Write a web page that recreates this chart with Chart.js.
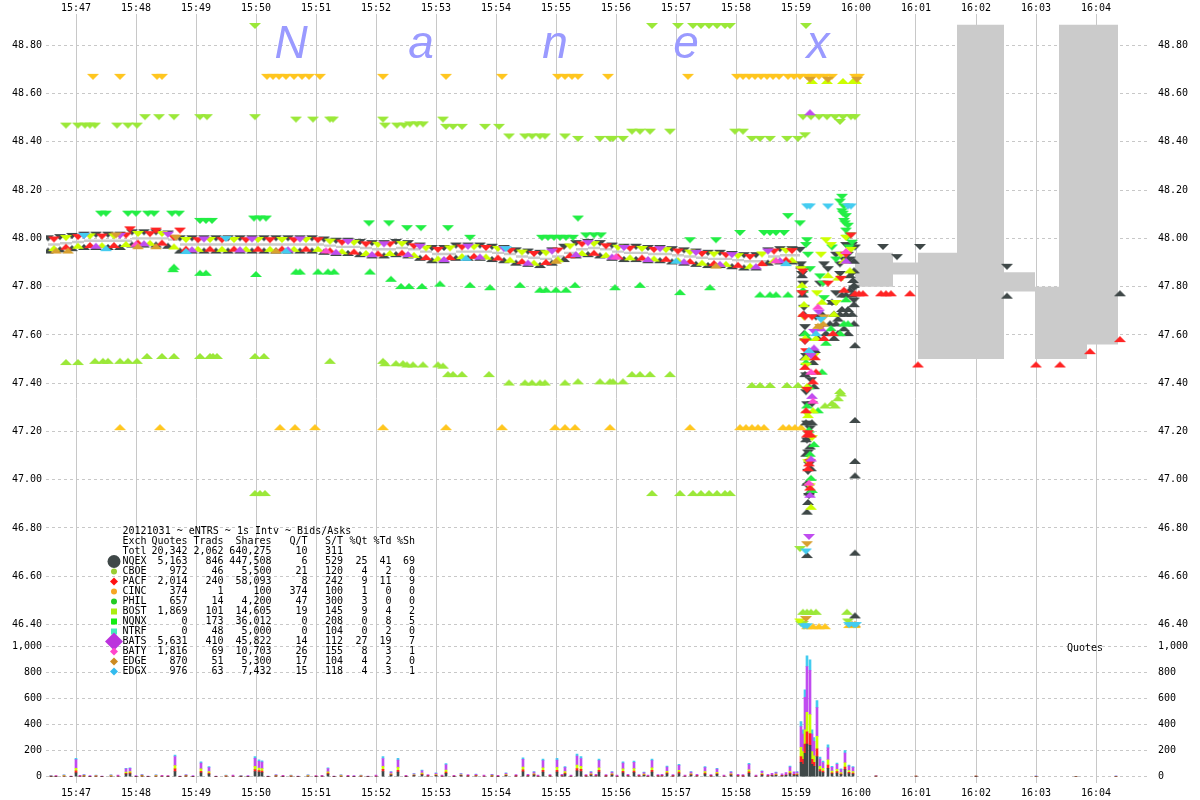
<!DOCTYPE html>
<html>
<head>
<meta charset="utf-8">
<script src="https://cdn.jsdelivr.net/npm/chart.js@4.4.1/dist/chart.umd.min.js"></script>
<style>
  html, body { margin: 0; padding: 0; background: #fff; }
  canvas { display: block; }
</style>
</head>
<body>
<canvas id="nanex" width="1200" height="800"></canvas>
<script>
// seconds after 15:47:00 on the x axis
const timeTicks = [0, 60, 120, 180, 240, 300, 360, 420, 480, 540, 600, 660, 720, 780, 840, 900, 960, 1020];
const timeLabels = ['15:47','15:48','15:49','15:50','15:51','15:52','15:53','15:54','15:55','15:56','15:57','15:58','15:59','16:00','16:01','16:02','16:03','16:04'];
const priceTicks = [46.4, 46.6, 46.8, 47.0, 47.2, 47.4, 47.6, 47.8, 48.0, 48.2, 48.4, 48.6, 48.8];
const quoteTicks = [0, 200, 400, 600, 800, 1000];
const quoteLabels = ['0', '200', '400', '600', '800', '1,000'];

// main band before the drop (NQEX outer quotes + NBBO core)
const bandT = [-28,-16,-4,8,20,32,44,56,68,80,92,104,116,128,140,152,164,176,188,200,212,224,236,248,260,272,284,296,308,320,332,344,356,368,380,392,404,416,428,440,452,464,476,488,500,512,524,536,548,560,572,584,596,608,620,632,644,656,668,680,692,704,716];
const nqexAskP = [47.988,47.993,47.998,48.003,48.003,48.003,48.003,48.013,48.013,48.013,48.008,47.988,47.988,47.988,47.988,47.988,47.988,47.988,47.988,47.988,47.988,47.988,47.988,47.983,47.978,47.978,47.973,47.968,47.968,47.973,47.968,47.958,47.948,47.948,47.958,47.958,47.958,47.953,47.948,47.938,47.933,47.928,47.938,47.953,47.968,47.973,47.968,47.958,47.953,47.953,47.948,47.948,47.943,47.938,47.933,47.928,47.928,47.923,47.918,47.918,47.938,47.943,47.943];
const nqexBidP = [47.962,47.967,47.972,47.977,47.977,47.977,47.977,47.987,47.987,47.987,47.982,47.962,47.962,47.962,47.962,47.962,47.962,47.962,47.962,47.962,47.962,47.962,47.962,47.957,47.952,47.952,47.947,47.942,47.942,47.947,47.942,47.932,47.922,47.922,47.932,47.932,47.932,47.927,47.922,47.912,47.907,47.902,47.912,47.927,47.942,47.947,47.942,47.932,47.927,47.927,47.922,47.922,47.917,47.912,47.907,47.902,47.902,47.897,47.892,47.892,47.912,47.917,47.917];
const nbboAskP = [47.98,47.985,47.99,47.995,47.995,47.995,47.995,48.005,48.005,48.005,48.0,47.98,47.98,47.98,47.98,47.98,47.98,47.98,47.98,47.98,47.98,47.98,47.98,47.975,47.97,47.97,47.965,47.96,47.96,47.965,47.96,47.95,47.94,47.94,47.95,47.95,47.95,47.945,47.94,47.93,47.925,47.92,47.93,47.945,47.96,47.965,47.96,47.95,47.945,47.945,47.94,47.94,47.935,47.93,47.925,47.92,47.92,47.915,47.91,47.91,47.93,47.935,47.935];
const nbboBidP = [47.97,47.975,47.98,47.985,47.985,47.985,47.985,47.995,47.995,47.995,47.99,47.97,47.97,47.97,47.97,47.97,47.97,47.97,47.97,47.97,47.97,47.97,47.97,47.965,47.96,47.96,47.955,47.95,47.95,47.955,47.95,47.94,47.93,47.93,47.94,47.94,47.94,47.935,47.93,47.92,47.915,47.91,47.92,47.935,47.95,47.955,47.95,47.94,47.935,47.935,47.93,47.93,47.925,47.92,47.915,47.91,47.91,47.905,47.9,47.9,47.92,47.925,47.925];

// NBBO after the close
const postT = [779, 817, 842, 881, 928, 959, 983, 1011, 1042];
const postBid = [47.80, 47.85, 47.50, 47.50, 47.78, 47.50, 47.50, 47.56, 47.56];
const postAsk = [47.94, 47.90, 47.94, 48.885, 47.86, 47.80, 48.885, 48.885, 48.885];

// exchange quotes [sec, price]
const nqexAskX = [[724,47.94],[725,47.88],[726,47.84],[727,47.80],[727,47.76],[728,47.70],[729,47.62],[729,47.56],[730,47.50],[730,47.42],[730,47.35],[731,47.30],[731,47.22],[731,47.15],[732,47.10],[732,47.02],[732,46.96],[733,46.92],[733,47.05],[734,47.20],[735,47.40],[736,47.30],[740,47.66],[744,47.80],[748,47.88],[752,47.86],[756,47.72],[760,47.76],[760,47.92],[764,47.84],[764,47.88],[768,47.90],[770,47.96],[772,47.92],[774,47.90],[776,47.96],[776,47.84],[778,47.78],[778,47.73],[779,47.95],
  [807,47.952],[821,47.91],[844,47.952],[931,47.87]];
const nqexBidX = [[725,47.90],[726,47.86],[727,47.78],[728,47.70],[728,47.62],[729,47.52],[729,47.45],[730,47.25],[730,47.18],[730,47.12],[731,47.00],[731,46.88],[732,46.92],[733,46.96],[734,47.15],[735,47.06],[736,47.25],[737,47.50],[738,47.40],[739,47.55],[742,47.60],[746,47.70],[750,47.62],[754,47.66],[756,47.75],[758,47.60],[758,47.70],[760,47.66],[762,47.68],[762,47.62],[764,47.70],[766,47.72],[766,47.78],[768,47.64],[770,47.78],[770,47.70],[772,47.72],[772,47.62],[774,47.80],[774,47.86],[776,47.78],[776,47.70],[777,47.84],[778,47.66],[778,47.74],[778,47.82],[778,47.88],[778,47.92],
  [779,47.57],[779,47.26],[779,47.09],[779,47.03],[779,46.71],[779,46.45],[731,46.70],[931,47.775],[1044,47.785]];

const pacfAsks = [[-22,47.983],[2,47.993],[26,47.995],[50,48.0],[54,48.025],[74,48.005],[80,48.02],[98,47.99],[104,48.02],[122,47.98],[146,47.98],[170,47.98],[194,47.98],[218,47.98],[242,47.98],[266,47.97],[290,47.963],[314,47.963],[338,47.955],[362,47.94],[386,47.95],[410,47.948],[434,47.935],[458,47.923],[482,47.937],[506,47.963],[530,47.955],[554,47.945],[578,47.94],[602,47.933],[626,47.923],[650,47.918],[674,47.91],[698,47.933],[716,47.935],
  [726,47.76],[727,47.85],[729,47.56],[729,47.66],[730,47.52],[731,47.36],[732,47.18],[734,47.06],[736,47.66],[745,47.62],[752,47.80],[765,47.82],[770,47.92],[775,48.00]];
const pacfBids = [[-10,47.978],[14,47.985],[38,47.985],[62,47.995],[86,47.995],[110,47.97],[134,47.97],[158,47.97],[182,47.97],[206,47.97],[230,47.97],[254,47.963],[278,47.958],[302,47.95],[326,47.953],[350,47.935],[374,47.935],[398,47.94],[422,47.933],[446,47.918],[470,47.915],[494,47.943],[518,47.953],[542,47.938],[566,47.933],[590,47.928],[614,47.918],[638,47.91],[662,47.903],[686,47.91],[710,47.925],
  [727,47.70],[729,47.48],[730,47.30],[731,47.20],[732,47.06],[733,47.08],[734,46.98],[735,47.20],[737,47.42],[739,47.52],[740,47.46],[748,47.60],[757,47.62],[768,47.80],
  [779,47.785],[783,47.785],[787,47.785],[805,47.785],[810,47.785],[815,47.785],[834,47.785],[842,47.49],[960,47.49],[984,47.49],[1014,47.545],[1044,47.595]];

const bostAsks = [[-10,47.989],[14,47.996],[38,47.996],[62,48.006],[86,48.006],[110,47.981],[134,47.981],[158,47.981],[182,47.981],[206,47.981],[230,47.981],[254,47.974],[278,47.969],[302,47.961],[326,47.964],[350,47.946],[374,47.946],[398,47.951],[422,47.944],[446,47.929],[470,47.926],[494,47.954],[518,47.964],[542,47.949],[566,47.944],[590,47.939],[614,47.929],[638,47.921],[662,47.914],[686,47.921],[710,47.936],
  [725,47.86],[728,47.66],[730,47.46],[731,47.26],[732,47.06],[734,46.96],[736,47.16],[738,47.50],[741,47.76],[745,47.92],[750,47.98],[755,47.96],[760,47.72],[765,47.92],[770,47.99],[775,47.94],[724,46.40]];
const bostBids = [[-22,47.972],[2,47.982],[26,47.984],[50,47.989],[74,47.994],[98,47.979],[122,47.969],[146,47.969],[170,47.969],[194,47.969],[218,47.969],[242,47.969],[266,47.959],[290,47.952],[314,47.952],[338,47.944],[362,47.929],[386,47.939],[410,47.937],[434,47.924],[458,47.912],[482,47.926],[506,47.952],[530,47.944],[554,47.934],[578,47.929],[602,47.922],[626,47.912],[650,47.907],[674,47.899],[698,47.922],[716,47.924],
  [726,47.82],[728,47.74],[729,47.60],[730,47.52],[731,47.40],[732,47.28],[733,47.10],[735,46.90],[737,47.30],[740,47.60],[746,47.75],[752,47.86],[758,47.70],[762,47.85],[768,47.92],[774,47.88],
  [736,48.665],[751,48.665],[767,48.665],[777,48.665],[780,48.665]];

const batsAsks = [[8,47.998],[44,47.998],[92,48.003],[128,47.983],[176,47.983],[224,47.983],[272,47.973],[308,47.963],[344,47.953],[392,47.953],[428,47.943],[476,47.933],[512,47.968],[548,47.948],[584,47.943],[620,47.928],[656,47.918],[692,47.933],
  [733,46.75],[735,47.50],[738,47.60],[743,47.68]];
const batsBids = [[20,47.982],[68,47.992],[116,47.967],[164,47.967],[212,47.967],[260,47.957],[296,47.947],[332,47.947],[368,47.927],[404,47.937],[452,47.912],[500,47.947],[536,47.937],[572,47.927],[608,47.917],[644,47.907],[680,47.897],[704,47.922],
  [734,48.535],[734,46.95],[735,47.10],[736,47.36],[738,47.56],[745,47.64],[770,47.92]];
const batyBids = [[60,47.99],[250,47.963],[540,47.938],[700,47.922],[733,47.00],[735,47.46],[737,47.34],[742,47.73],[770,47.96]];

const edgxAsks = [[8,47.998],[150,47.985],[430,47.943],[731,48.12],[734,48.12],[752,48.12],[772,48.12],[775,48.12],[728,46.38],[731,46.38],[773,46.385],[778,46.385],[780,46.385],[730,46.69],[745,47.65]];
const edgxBids = [[30,47.972],[110,47.96],[210,47.962],[390,47.932],[600,47.92],[710,47.91],[733,47.55],[740,47.62]];
const edgeAsks = [[40,48.0],[100,47.99],[734,48.645],[752,48.645],[781,48.645],[730,46.41],[731,46.72],[744,47.62],[748,47.66]];
const edgeBids = [[-20,47.962],[-8,47.962],[62,47.98],[80,47.98],[200,47.962],[480,47.92],[640,47.9],[742,47.65],[747,47.66],[776,46.415],[779,46.415]];

const philAsks = [[25,48.09],[30,48.09],[52,48.09],[60,48.09],[72,48.09],[78,48.09],[96,48.09],[103,48.09],[124,48.06],[130,48.06],[136,48.06],[178,48.07],[184,48.07],[190,48.07],[293,48.05],[313,48.05],[331,48.03],[345,48.03],[372,48.03],[394,47.99],[466,47.99],[472,47.99],[478,47.99],[484,47.99],[490,47.99],[497,47.99],[502,48.07],[510,48.0],[518,48.0],[525,48.0],[614,47.98],[640,47.98],[664,48.01],[688,48.01],[694,48.01],[700,48.01],[708,48.01],[712,48.08],[724,48.05],
  [730,47.96],[731,47.98],[732,47.92],[734,47.86],[744,47.83],[747,47.80],[748,47.74],[756,47.95],[760,47.90],[764,48.14],[766,48.16],[766,48.10],[767,48.09],[768,48.12],[768,48.06],[769,48.05],[770,48.02],[770,48.08],[771,47.99],[772,48.04],[773,47.95],[774,48.00],[776,47.97]];
const philBids = [[97,47.885],[98,47.895],[124,47.87],[130,47.87],[180,47.865],[220,47.875],[224,47.875],[242,47.875],[252,47.875],[258,47.875],[294,47.875],[315,47.845],[325,47.815],[333,47.815],[346,47.815],[364,47.825],[394,47.82],[414,47.81],[444,47.82],[464,47.80],[470,47.80],[480,47.80],[490,47.80],[499,47.82],[539,47.81],[564,47.82],[604,47.79],[634,47.81],[684,47.78],[694,47.78],[700,47.78],[712,47.78],
  [727,47.80],[729,47.62],[730,47.50],[731,47.32],[732,47.60],[733,47.22],[733,47.40],[734,47.12],[735,47.02],[736,46.97],[738,47.16],[742,47.30],[746,47.46],[750,47.58],[755,47.64],[764,47.62],[768,47.66],[770,47.76],[772,47.66]];

const cboeAsks = [[-10,48.455],[2,48.455],[9,48.455],[14,48.455],[19,48.455],[41,48.455],[52,48.455],[61,48.455],[69,48.49],[83,48.49],[98,48.49],[124,48.49],[131,48.49],[179,48.49],[179,48.868],[220,48.48],[237,48.48],[254,48.48],[257,48.48],[307,48.48],[309,48.455],[321,48.455],[328,48.455],[334,48.46],[341,48.46],[347,48.46],[367,48.48],[370,48.45],[377,48.45],[386,48.45],[409,48.45],[423,48.45],[433,48.41],[449,48.41],[456,48.41],[464,48.41],[469,48.41],[489,48.41],[502,48.40],[524,48.40],[534,48.40],[537,48.40],[547,48.40],[556,48.43],[564,48.43],[574,48.43],[576,48.868],[594,48.43],[602,48.868],[617,48.868],[625,48.868],[633,48.868],[641,48.868],[649,48.868],[654,48.868],[659,48.43],[667,48.43],[676,48.40],[684,48.40],[694,48.40],[711,48.40],[722,48.40],[729,48.415],[730,48.868],[727,48.49],[735,48.49],[743,48.49],[751,48.49],[759,48.49],[767,48.49],[775,48.49],[779,48.49],[764,48.47],[724,46.70],[725,46.39],[727,46.39],[772,46.40]];
const cboeBids = [[-10,47.50],[2,47.50],[19,47.505],[27,47.505],[32,47.505],[44,47.505],[52,47.505],[61,47.505],[71,47.525],[86,47.525],[98,47.525],[124,47.525],[134,47.525],[137,47.525],[141,47.525],[179,47.525],[188,47.525],[254,47.505],[307,47.505],[309,47.495],[320,47.495],[327,47.495],[331,47.49],[337,47.49],[347,47.49],[362,47.49],[367,47.485],[372,47.45],[377,47.45],[386,47.45],[413,47.45],[433,47.415],[449,47.415],[456,47.415],[464,47.415],[469,47.415],[489,47.415],[502,47.42],[524,47.42],[534,47.42],[537,47.42],[547,47.42],[556,47.45],[564,47.45],[574,47.45],[594,47.45],[676,47.405],[684,47.405],[694,47.405],[711,47.405],[722,47.405],[179,46.957],[184,46.957],[189,46.957],[576,46.957],[604,46.957],[617,46.957],[625,46.957],[633,46.957],[641,46.957],[649,46.957],[654,46.957],[727,46.465],[731,46.465],[735,46.465],[740,46.465],[771,46.465],[749,47.32],[756,47.33],[759,47.32],[762,47.35],[764,47.38],[765,47.37]];

const cincAsks = [[17,48.657],[44,48.657],[81,48.657],[86,48.657],[191,48.657],[197,48.657],[203,48.657],[210,48.657],[218,48.657],[226,48.657],[233,48.657],[244,48.657],[307,48.657],[370,48.657],[426,48.657],[482,48.657],[489,48.657],[496,48.657],[502,48.657],[532,48.657],[612,48.657],[661,48.657],[667,48.657],[673,48.657],[679,48.657],[685,48.657],[691,48.657],[697,48.657],[703,48.657],[712,48.657],[718,48.657],[724,48.657],[731,48.657],[737,48.657],[743,48.657],[749,48.657],[756,48.657],[779,48.657],[783,48.657]];
const cincBids = [[44,47.23],[84,47.23],[204,47.23],[219,47.23],[239,47.23],[307,47.23],[370,47.23],[426,47.23],[479,47.23],[489,47.23],[499,47.23],[534,47.23],[614,47.23],[664,47.23],[670,47.23],[676,47.23],[682,47.23],[688,47.23],[707,47.23],[713,47.23],[719,47.23],[725,47.23],[731,46.405],[737,46.405],[743,46.405],[749,46.405],[773,46.41],[779,46.41]];

// quotes per second (stacked bars) - bursts
const qTimes = [-25,-12,0,8,20,35,50,54,66,80,99,110,125,133,150,165,179,183,186,200,215,232,252,265,285,307,315,322,338,346,360,370,385,400,416,430,447,458,467,481,489,501,505,515,523,536,547,558,568,576,591,603,615,629,641,655,673,686,700,714,721,725,727,729,731,734,736,738,741,744,747,752,756,761,765,769,773,777,800,840,900,960,1000,1040];
const qNqex = [3,4,30,5,4,4,20,22,5,4,40,5,30,20,4,3,40,35,32,5,4,4,20,4,4,40,12,36,8,15,9,26,8,6,5,9,38,12,35,36,20,45,40,12,35,12,30,32,10,35,22,25,12,20,18,12,27,13,10,22,12,110,95,180,250,240,95,80,155,40,32,65,22,28,16,55,25,20,0,0,2,0,0,0];
const qPacf = [1,2,15,2,1,2,6,8,2,2,20,2,12,8,1,1,15,12,12,2,1,2,8,2,1,16,4,14,3,5,3,10,3,2,2,3,15,4,14,14,8,18,16,4,14,4,12,12,4,14,8,10,4,8,6,4,10,5,4,8,4,45,38,70,95,92,38,30,60,15,12,25,8,11,6,20,9,8,6,6,3,4,4,4];
const qBost = [2,2,20,3,2,3,10,10,3,3,25,2,18,12,2,2,24,20,18,2,2,3,10,3,2,24,6,22,4,8,5,16,4,3,3,5,22,6,20,22,12,26,24,6,20,6,18,18,6,20,12,15,6,12,10,6,16,7,6,12,6,70,60,110,150,145,60,50,95,25,20,40,13,17,10,32,14,12,0,0,0,0,0,0];
const qBats = [3,5,66,5,4,4,24,24,5,4,70,5,45,30,4,3,62,52,50,5,4,4,25,4,4,60,14,56,8,18,10,40,8,7,6,10,58,14,55,56,30,70,60,14,55,14,45,48,12,55,33,37,14,30,25,14,40,16,12,33,14,160,135,250,350,340,135,112,220,56,45,92,30,40,22,75,34,30,2,0,0,2,0,2];
const qEdgx = [1,1,10,1,1,1,4,5,1,1,12,1,10,7,1,1,13,11,11,1,1,1,6,1,1,14,4,13,2,5,3,8,2,2,2,3,13,4,12,13,7,15,14,4,12,4,10,10,3,12,7,8,4,7,5,4,9,4,3,7,4,38,31,57,83,80,31,28,55,14,11,22,7,9,6,18,8,7,0,0,0,0,0,0];
// quiet seconds in between
const smallT = [-20,-5,4,14,26,42,60,72,86,92,104,117,140,157,172,192,207,222,240,246,258,272,278,292,300,330,352,366,378,392,408,422,440,452,462,474,486,495,510,520,530,541,552,563,572,582,586,597,609,621,635,648,662,667,680,692,696,706,710,718];
const smallNqex = [3,2,4,3,2,4,3,2,4,3,2,3,2,4,3,2,3,2,3,4,2,3,3,2,4,3,5,4,3,5,4,3,5,6,4,5,6,4,5,6,5,4,6,5,4,5,6,5,4,6,5,4,6,5,4,6,8,7,10,12];
const smallPacf = [2,1,2,1,1,2,1,1,2,2,1,1,1,2,1,1,2,1,2,1,1,2,1,1,2,2,3,2,2,3,2,2,3,3,2,3,3,2,3,3,3,2,3,3,2,3,3,3,2,3,3,2,3,3,2,3,4,4,5,6];
const smallBats = [4,3,5,4,3,6,4,3,5,4,3,4,3,6,4,3,5,3,4,6,3,5,4,3,6,5,8,6,5,8,6,5,8,10,7,8,10,7,8,10,8,7,10,8,7,8,10,8,7,10,8,7,10,8,7,10,14,12,16,20];

// legend table
const tblExch = ['Totl','NQEX','CBOE','PACF','CINC','PHIL','BOST','NQNX','NTRF','BATS','BATY','EDGE','EDGX'];
const tblQuotes = ['20,342','5,163','972','2,014','374','657','1,869','0','0','5,631','1,816','870','976'];
const tblTrads = ['2,062','846','46','240','1','14','101','173','48','410','69','51','63'];
const tblShares = ['640,275','447,508','5,500','58,093','100','4,200','14,605','36,012','5,000','45,822','10,703','5,300','7,432'];
const tblQT = ['10','6','21','8','374','47','19','0','0','14','26','17','15'];
const tblST = ['311','529','120','242','100','300','145','208','104','112','155','104','118'];
const tblPQt = ['','25','4','9','1','3','9','0','0','27','8','4','4'];
const tblPTd = ['','41','2','11','0','0','4','8','2','19','3','2','3'];
const tblPSh = ['','69','0','9','0','0','2','5','0','7','1','0','1'];
const tblHead = ['Quotes','Trads','Shares','Q/T','S/T','%Qt','%Td','%Sh'];

const C = {
  nqex: '#3f4848', cboe: '#9be839', pacf: '#ff2424', cinc: '#ffc61e', phil: '#22ee44',
  bost: '#ccff00', bats: '#c04cf0', baty: '#ff4ccf', edge: '#d8a030', edgx: '#44ccf0', nbbo: '#cbcbcb'
};

function triangle(color, up) {
  const c = document.createElement('canvas');
  c.width = 12; c.height = 14;
  const g = c.getContext('2d');
  g.fillStyle = color;
  g.beginPath();
  if (up) { g.moveTo(6, 7); g.lineTo(12, 13); g.lineTo(0, 13); }
  else { g.moveTo(6, 7); g.lineTo(12, 1); g.lineTo(0, 1); }
  g.closePath();
  g.fill();
  return c;
}

function quoteSet(pairs, color, up) {
  return {
    type: 'scatter', xAxisID: 'x', yAxisID: 'yp',
    data: pairs.map(p => ({x: p[0], y: p[1]})),
    pointStyle: triangle(color, up), pointRadius: 3
  };
}
function barSet(times, vals, color) {
  return {
    type: 'bar', xAxisID: 'x', yAxisID: 'yq',
    data: times.map((t, i) => ({x: t, y: vals[i]})),
    backgroundColor: color, barThickness: 2, grouped: false, borderWidth: 0
  };
}

const nqexAsks = bandT.map((t, i) => [t, nqexAskP[i]]).concat(nqexAskX);
const nqexBids = bandT.map((t, i) => [t, nqexBidP[i]]).concat(nqexBidX);

function nbboLine(bandVals, postVals) {
  const pts = bandT.map((t, i) => ({x: t, y: bandVals[i]}));
  pts.push({x: 724, y: bandVals[bandVals.length - 1]});
  pts.push({x: 760, y: null});
  postT.forEach((t, i) => pts.push({x: t, y: postVals[i]}));
  return pts;
}

const datasets = [
  quoteSet(edgxAsks, C.edgx, false), quoteSet(edgxBids, C.edgx, true),
  quoteSet(edgeAsks, C.edge, false), quoteSet(edgeBids, C.edge, true),
  quoteSet(batyBids, C.baty, true),
  quoteSet(batsAsks, C.bats, false), quoteSet(batsBids, C.bats, true),
  quoteSet(pacfAsks, C.pacf, false), quoteSet(pacfBids, C.pacf, true),
  quoteSet(bostAsks, C.bost, false), quoteSet(bostBids, C.bost, true),
  quoteSet(philAsks, C.phil, false), quoteSet(philBids, C.phil, true),
  quoteSet(nqexAsks, C.nqex, false), quoteSet(nqexBids, C.nqex, true),
  quoteSet(cboeAsks, C.cboe, false), quoteSet(cboeBids, C.cboe, true),
  quoteSet(cincAsks, C.cinc, false), quoteSet(cincBids, C.cinc, true),
  barSet(qTimes, qNqex, C.nqex), barSet(qTimes, qPacf, C.pacf), barSet(qTimes, qBost, C.bost),
  barSet(qTimes, qBats, C.bats), barSet(qTimes, qEdgx, C.edgx),
  barSet(smallT, smallNqex, C.nqex), barSet(smallT, smallPacf, C.pacf), barSet(smallT, smallBats, C.bats),
  { type: 'line', xAxisID: 'x', yAxisID: 'yp', data: nbboLine(nbboBidP, postBid), stepped: true,
    pointRadius: 0, borderWidth: 0, borderColor: 'rgba(0,0,0,0)', fill: false, spanGaps: false, order: 50 },
  { type: 'line', xAxisID: 'x', yAxisID: 'yp', data: nbboLine(nbboAskP, postAsk), stepped: true,
    pointRadius: 0, borderWidth: 0, borderColor: 'rgba(0,0,0,0)', backgroundColor: C.nbbo, fill: '-1', spanGaps: false, order: 50 }
];

const monoFont = { family: '"DejaVu Sans Mono", monospace', size: 10 };

function timeAxis(pos, showGrid, pad, h) {
  return {
    type: 'linear', position: pos, min: -30, max: 1074, offset: false,
    afterBuildTicks: s => { s.ticks = timeTicks.map(v => ({value: v})); },
    afterFit: s => { s.height = h; },
    ticks: { callback: v => timeLabels[timeTicks.indexOf(v)], color: '#000', font: monoFont, padding: pad, maxRotation: 0, autoSkip: false },
    grid: { display: showGrid, color: '#c8c8c8', drawTicks: false, offset: false },
    border: { display: false }
  };
}
function priceAxis(pos, stackW, w, pad, showGrid, wt) {
  return {
    type: 'linear', position: pos, stack: 'p', stackWeight: stackW, weight: wt, min: 46.334, max: 48.93,
    afterBuildTicks: s => { s.ticks = priceTicks.map(v => ({value: v})); },
    afterFit: s => { s.width = w; },
    ticks: { callback: v => v.toFixed(2), color: '#000', font: monoFont, padding: pad, autoSkip: false },
    grid: { display: showGrid, color: '#c8c8c8', drawTicks: false },
    border: { display: false, dash: [3, 3] }
  };
}
function quoteAxis(pos, stackW, w, pad, showGrid, wt) {
  return {
    type: 'linear', position: pos, stack: 'p', stackWeight: stackW, weight: wt, min: -48, max: 1046, stacked: true,
    afterBuildTicks: s => { s.ticks = quoteTicks.map(v => ({value: v})); },
    afterFit: s => { s.width = w; },
    ticks: { callback: v => quoteLabels[quoteTicks.indexOf(v)], color: '#000', font: monoFont, padding: pad, autoSkip: false },
    grid: { display: showGrid, color: '#c8c8c8', drawTicks: false },
    border: { display: false, dash: [3, 3] }
  };
}

const wmLetters = ['N', 'a', 'n', 'e', 'x'];
const wmX = [291, 421, 555, 686, 818];

function marker(g, shape, color, x, y, r) {
  g.fillStyle = color;
  g.beginPath();
  if (shape === 'circle') g.arc(x, y, r, 0, Math.PI * 2);
  else if (shape === 'square') g.rect(x - r, y - r, r * 2, r * 2);
  else { g.moveTo(x, y - r); g.lineTo(x + r, y); g.lineTo(x, y + r); g.lineTo(x - r, y); g.closePath(); }
  g.fill();
}

const overlay = {
  id: 'overlay',
  beforeDatasetsDraw(chart) {
    const g = chart.ctx;
    g.save();
    g.font = 'italic 46px "Liberation Sans", sans-serif';
    g.fillStyle = '#9a9aff';
    g.textAlign = 'center';
    g.textBaseline = 'alphabetic';
    wmLetters.forEach((ch, i) => g.fillText(ch, wmX[i], 58));
    g.restore();
  },
  afterDraw(chart) {
    const g = chart.ctx;
    g.save();
    g.font = '10px "DejaVu Sans Mono", monospace';
    g.fillStyle = '#000';
    g.textBaseline = 'middle';
    g.textAlign = 'left';
    g.fillText('20121031 ~ eNTRS ~ 1s Intv ~ Bids/Asks', 122.5, 531);
    g.fillText('Exch', 122.5, 541.5);
    const right = [187.5, 223.5, 271.5, 307.5, 343, 367.5, 391.5, 415];
    g.textAlign = 'right';
    tblHead.forEach((h, i) => g.fillText(h, right[i], 541.5));
    const cols = [tblQuotes, tblTrads, tblShares, tblQT, tblST, tblPQt, tblPTd, tblPSh];
    tblExch.forEach((ex, r) => {
      const y = 551.5 + r * 10;
      g.textAlign = 'left';
      g.fillStyle = '#000';
      g.fillText(ex, 122.5, y);
      g.textAlign = 'right';
      cols.forEach((col, i) => g.fillText(col[r], right[i], y));
    });
    const marks = [
      ['circle', C.nqex, 6.5], ['circle', '#99cc33', 3], ['diamond', '#ff1010', 4], ['circle', '#f5a623', 3],
      ['circle', '#22cc22', 3], ['square', '#aaee11', 3], ['square', '#11ee11', 3], ['square', '#44eebb', 3],
      ['diamond', '#bb33dd', 9], ['diamond', '#ff44cc', 4], ['diamond', '#cc8a22', 4], ['diamond', '#33bbee', 4]
    ];
    marks.forEach((m, i) => marker(g, m[0], m[1], 114, 561.5 + i * 10, m[2]));
    g.fillStyle = '#000';
    g.textAlign = 'left';
    g.fillText('Quotes', 1067, 648);
    g.restore();
  }
};

new Chart(document.getElementById('nanex'), {
  type: 'scatter',
  data: { datasets },
  options: {
    responsive: false,
    animation: false,
    devicePixelRatio: 1,
    events: [],
    layout: { padding: 0 },
    plugins: { legend: { display: false }, tooltip: { enabled: false } },
    scales: {
      x: timeAxis('bottom', true, 4, 17),
      x2: timeAxis('top', false, 0, 12),
      yp: priceAxis('left', 628, 46, 4, true, 2),
      yq: quoteAxis('left', 143, 46, 4, true, 1),
      ypR: priceAxis('right', 628, 50, 8, false, 1),
      yqR: quoteAxis('right', 143, 50, 8, false, 2)
    }
  },
  plugins: [overlay]
});
</script>
</body>
</html>
